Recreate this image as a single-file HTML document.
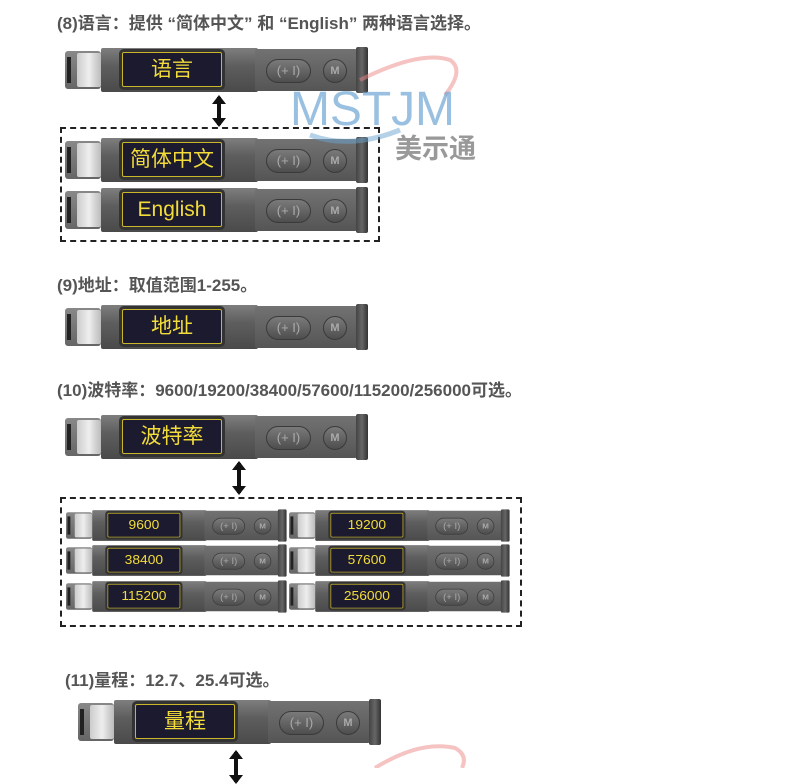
<!DOCTYPE html>
<html><head><meta charset="utf-8"><style>
body{margin:0;width:790px;height:768px;background:#fff;position:relative;overflow:hidden;font-family:"Liberation Sans","Noto Sans CJK SC",sans-serif}
.h{position:absolute;font-weight:bold;font-size:17px;color:#555;white-space:nowrap}
.d{position:absolute;width:305px;height:50px;transform-origin:0 0}
.d .cap{position:absolute;left:0;top:6px;width:36px;height:38px;background:linear-gradient(#888,#666);border-radius:3px}
.d .slot{position:absolute;left:2px;top:12px;width:4px;height:26px;background:#222}
.d .wh{position:absolute;left:12px;top:8px;width:24px;height:34px;background:linear-gradient(90deg,#ccc,#eee,#bbb);border-radius:2px}
.d .body{position:absolute;left:36px;top:3px;width:157px;height:44px;background:linear-gradient(#7e7e7e,#5e5e5e 40%,#4a4a4a);border-radius:2px}
.d .right{position:absolute;left:190px;top:4px;width:102px;height:42px;background:linear-gradient(#727272,#555);border-radius:2px}
.d .end{position:absolute;left:291px;top:2px;width:12px;height:46px;background:linear-gradient(90deg,#444,#666,#333);border-radius:2px}
.d .scr{position:absolute;left:57px;top:7px;width:100px;height:35px;background:#1c1a2e;border:1.5px solid #c9b62a;box-shadow:0 0 0 3px #333;border-radius:2px;color:#f2dc3a;font-size:21px;text-align:center;line-height:33px;box-sizing:border-box}
.d .pill{position:absolute;left:201px;top:14px;width:45px;height:24px;border-radius:12px;background:linear-gradient(#7a7a7a,#4e4e4e);border:1px solid #3a3a3a;color:#aaa;font-size:13px;text-align:center;line-height:22px;box-sizing:border-box}
.d .m{position:absolute;left:258px;top:14px;width:24px;height:24px;border-radius:50%;background:linear-gradient(#7a7a7a,#4e4e4e);border:1px solid #3a3a3a;color:#aaa;font-size:11px;font-weight:bold;text-align:center;line-height:22px;box-sizing:border-box}
.s{transform:scale(0.728,0.7)}
.s .scr{font-size:19px}
.box{position:absolute;border:2px dashed #222}
.arr{position:absolute;width:4px;background:#111}
.arr:before,.arr:after{content:"";position:absolute;left:-5px;border-left:7px solid transparent;border-right:7px solid transparent}
.arr:before{top:-2px;border-bottom:9px solid #111}
.arr:after{bottom:-2px;border-top:9px solid #111}
</style></head><body>
<div class="h" style="left:57px;top:9px">(8)语言：提供 “简体中文” 和 “English” 两种语言选择。</div>
<div class="h" style="left:57px;top:271px">(9)地址：取值范围1-255。</div>
<div class="h" style="left:57px;top:376px">(10)波特率：9600/19200/38400/57600/115200/256000可选。</div>
<div class="h" style="left:65px;top:666px">(11)量程：12.7、25.4可选。</div>

<div class="box" style="left:60px;top:127px;width:316px;height:111px"></div>
<div class="box" style="left:60px;top:497px;width:458px;height:126px"></div>
<div class="arr" style="left:217px;top:97px;height:28px"></div>
<div class="arr" style="left:237px;top:463px;height:30px"></div>
<div class="arr" style="left:234px;top:752px;height:30px"></div>

<div class="d" style="left:65px;top:45px"><div class="cap"></div><div class="slot"></div><div class="wh"></div><div class="body"></div><div class="right"></div><div class="end"></div><div class="scr">语言</div><div class="pill">(+ I)</div><div class="m">M</div></div>
<div class="d" style="left:65px;top:135px"><div class="cap"></div><div class="slot"></div><div class="wh"></div><div class="body"></div><div class="right"></div><div class="end"></div><div class="scr">简体中文</div><div class="pill">(+ I)</div><div class="m">M</div></div>
<div class="d" style="left:65px;top:185px"><div class="cap"></div><div class="slot"></div><div class="wh"></div><div class="body"></div><div class="right"></div><div class="end"></div><div class="scr">English</div><div class="pill">(+ I)</div><div class="m">M</div></div>
<div class="d" style="left:65px;top:302px"><div class="cap"></div><div class="slot"></div><div class="wh"></div><div class="body"></div><div class="right"></div><div class="end"></div><div class="scr">地址</div><div class="pill">(+ I)</div><div class="m">M</div></div>
<div class="d" style="left:65px;top:412px"><div class="cap"></div><div class="slot"></div><div class="wh"></div><div class="body"></div><div class="right"></div><div class="end"></div><div class="scr">波特率</div><div class="pill">(+ I)</div><div class="m">M</div></div>
<div class="d" style="left:78px;top:697px"><div class="cap"></div><div class="slot"></div><div class="wh"></div><div class="body"></div><div class="right"></div><div class="end"></div><div class="scr">量程</div><div class="pill">(+ I)</div><div class="m">M</div></div>

<div class="d s" style="left:66px;top:508px"><div class="cap"></div><div class="slot"></div><div class="wh"></div><div class="body"></div><div class="right"></div><div class="end"></div><div class="scr">9600</div><div class="pill">(+ I)</div><div class="m">M</div></div>
<div class="d s" style="left:66px;top:543px"><div class="cap"></div><div class="slot"></div><div class="wh"></div><div class="body"></div><div class="right"></div><div class="end"></div><div class="scr">38400</div><div class="pill">(+ I)</div><div class="m">M</div></div>
<div class="d s" style="left:66px;top:579px"><div class="cap"></div><div class="slot"></div><div class="wh"></div><div class="body"></div><div class="right"></div><div class="end"></div><div class="scr">115200</div><div class="pill">(+ I)</div><div class="m">M</div></div>
<div class="d s" style="left:289px;top:508px"><div class="cap"></div><div class="slot"></div><div class="wh"></div><div class="body"></div><div class="right"></div><div class="end"></div><div class="scr">19200</div><div class="pill">(+ I)</div><div class="m">M</div></div>
<div class="d s" style="left:289px;top:543px"><div class="cap"></div><div class="slot"></div><div class="wh"></div><div class="body"></div><div class="right"></div><div class="end"></div><div class="scr">57600</div><div class="pill">(+ I)</div><div class="m">M</div></div>
<div class="d s" style="left:289px;top:579px"><div class="cap"></div><div class="slot"></div><div class="wh"></div><div class="body"></div><div class="right"></div><div class="end"></div><div class="scr">256000</div><div class="pill">(+ I)</div><div class="m">M</div></div>

<svg style="position:absolute;left:0;top:0" width="790" height="768">
<path d="M360 80 Q420 50 450 60 Q465 70 445 95" stroke="#e88" stroke-width="4" fill="none" opacity="0.5"/>
<path d="M310 135 Q350 150 400 130" stroke="#6aa3d0" stroke-width="5" fill="none" opacity="0.5"/>
<text x="290" y="125" font-family="Liberation Sans" font-size="48" fill="#6fa6d3" opacity="0.7" textLength="165">MSTJM</text>
<text x="395" y="158" font-family="Liberation Sans,Noto Sans CJK SC" font-size="27" font-weight="bold" fill="#999">美示通</text>
<path d="M375 768 Q420 740 455 748 Q468 755 462 768" stroke="#e88" stroke-width="4" fill="none" opacity="0.5"/>
</svg>
</body></html>
